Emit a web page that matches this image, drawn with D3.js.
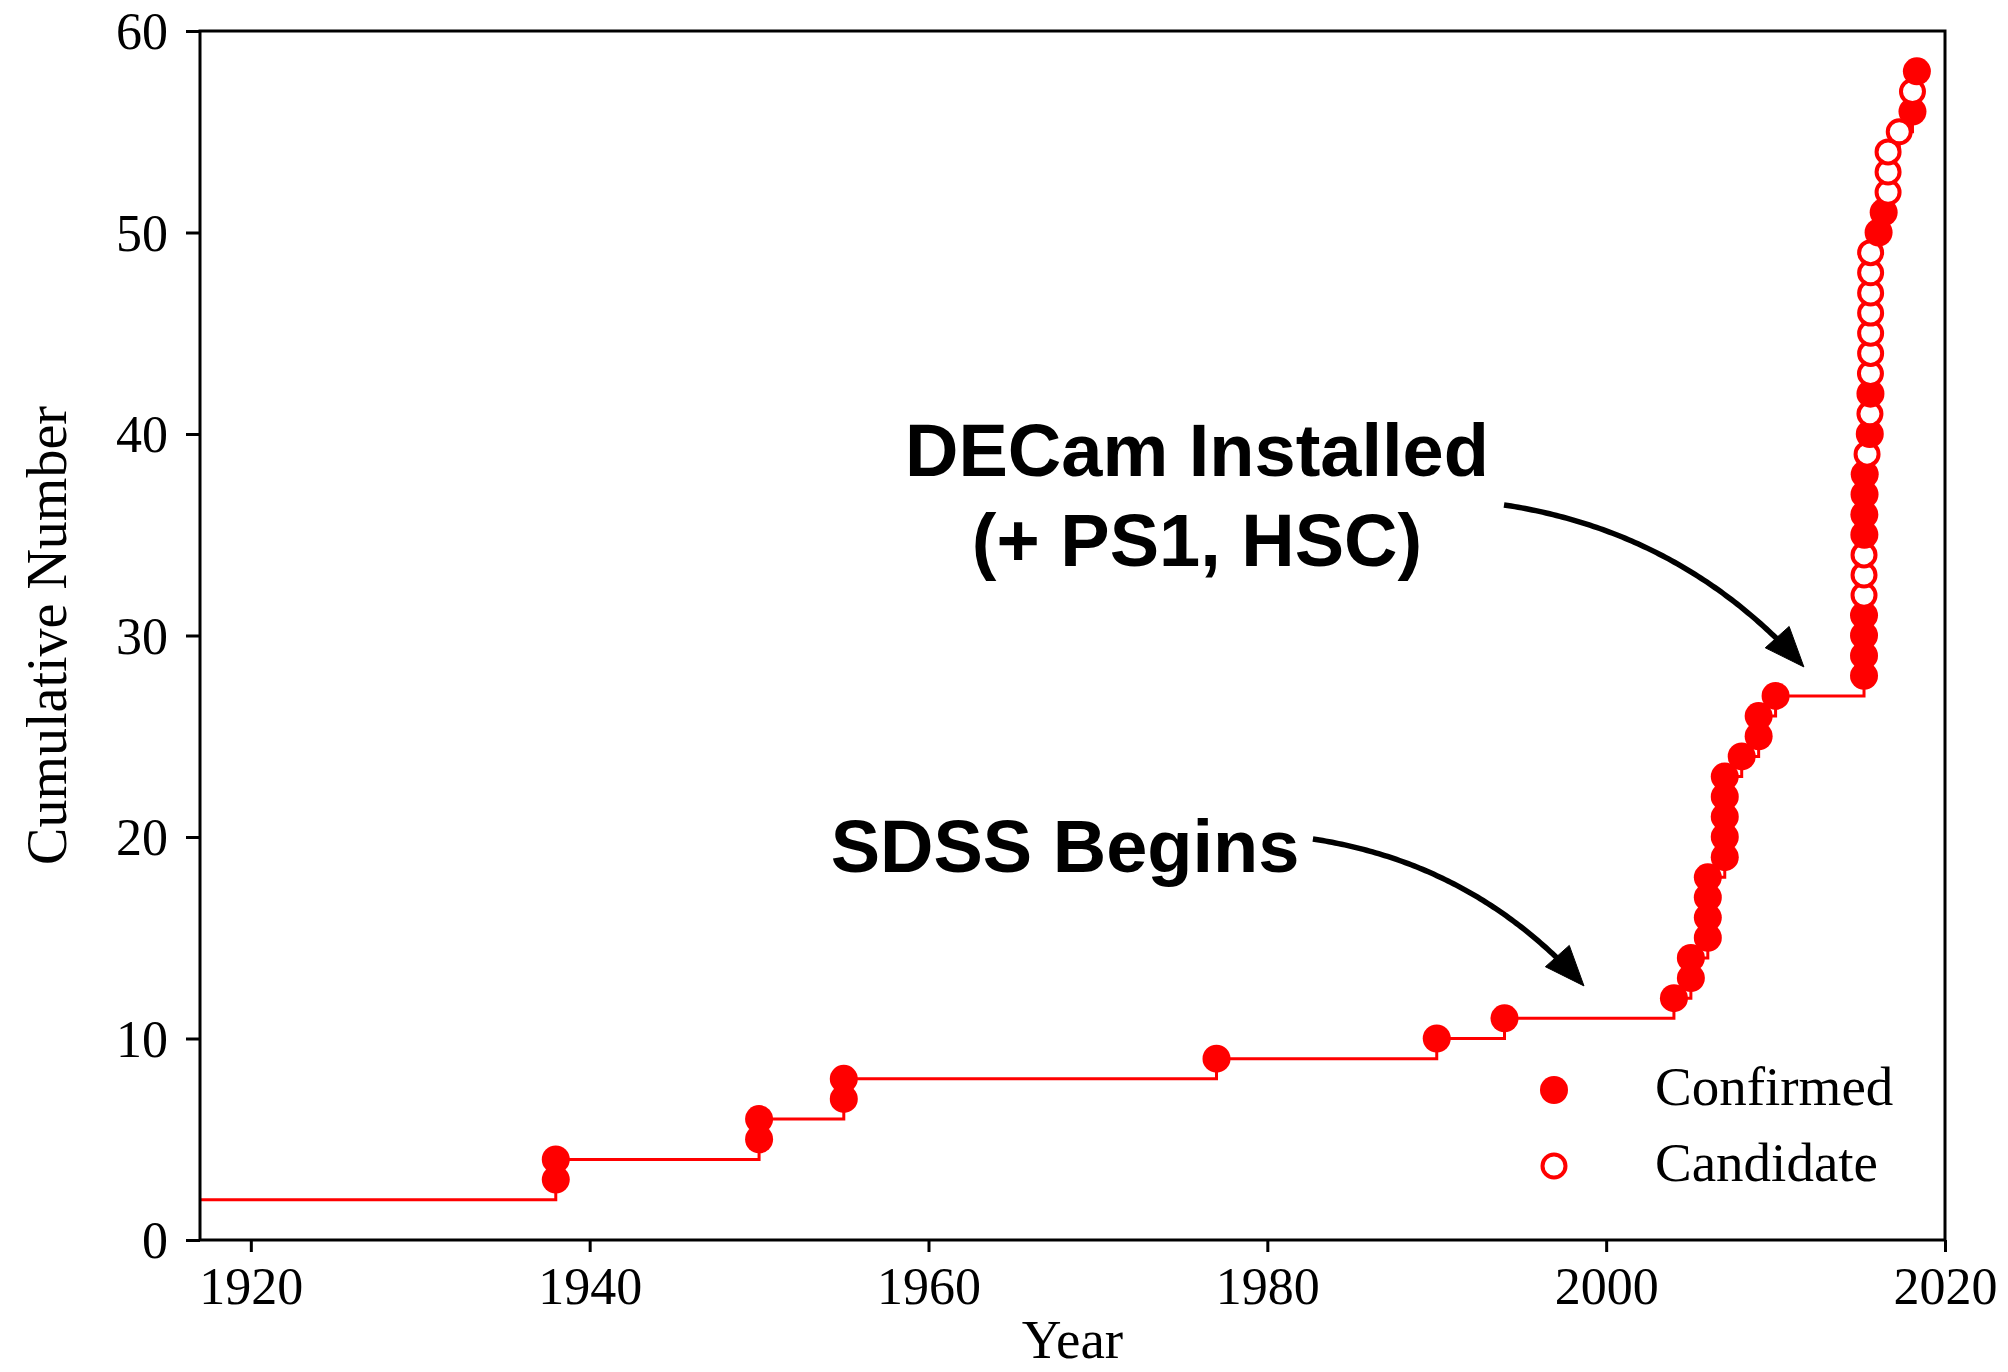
<!DOCTYPE html>
<html>
<head>
<meta charset="utf-8">
<script src="https://cdn.jsdelivr.net/npm/d3@7"></script>
<style>
  body { margin: 0; background: #fff; }
  svg { display: block; }
</style>
</head>
<body>
<script>
// Discovery epoch (decimal year) of each object, in order of discovery
const discoveryYears = [
  1938, 1938, 1950, 1950, 1955, 1955, 1977, 1990, 1994,
  2004, 2005, 2005, 2006, 2006, 2006, 2006,
  2007, 2007, 2007, 2007, 2007, 2008, 2009, 2009, 2010,
  2015.22, 2015.22, 2015.22, 2015.22, 2015.22, 2015.22, 2015.22,
  2015.24, 2015.24, 2015.25, 2015.26, 2015.40, 2015.56, 2015.57,
  2015.60, 2015.60, 2015.61, 2015.61, 2015.61, 2015.61, 2015.61, 2015.61,
  2016.08, 2016.38, 2016.64, 2016.64, 2016.64, 2017.30,
  2018.08, 2018.08, 2018.34
];
// Running total after each discovery
const cumulativeCounts = [
  3, 4, 5, 6, 7, 8, 9, 10, 11,
  12, 13, 14, 15, 16, 17, 18,
  19, 20, 21, 22, 23, 24, 25, 26, 27,
  28, 29, 30, 31, 32, 33, 34,
  35, 36, 37, 38, 39, 40, 41,
  42, 43, 44, 45, 46, 47, 48, 49,
  50, 51, 52, 53, 54, 55,
  56, 57, 58
];
// Status of each object
const statuses = [
  "Confirmed", "Confirmed", "Confirmed", "Confirmed", "Confirmed", "Confirmed", "Confirmed", "Confirmed", "Confirmed",
  "Confirmed", "Confirmed", "Confirmed", "Confirmed", "Confirmed", "Confirmed", "Confirmed",
  "Confirmed", "Confirmed", "Confirmed", "Confirmed", "Confirmed", "Confirmed", "Confirmed", "Confirmed", "Confirmed",
  "Confirmed", "Confirmed", "Confirmed", "Confirmed", "Candidate", "Candidate", "Candidate",
  "Confirmed", "Confirmed", "Confirmed", "Confirmed", "Candidate", "Confirmed", "Candidate",
  "Confirmed", "Candidate", "Candidate", "Candidate", "Candidate", "Candidate", "Candidate", "Candidate",
  "Confirmed", "Confirmed", "Candidate", "Candidate", "Candidate", "Candidate",
  "Confirmed", "Candidate", "Confirmed"
];
// Objects already known before the start of the time axis
const countBeforeAxis = 2;

const xDomain = [1917, 2020];
const yDomain = [0, 60];
const xTickValues = [1920, 1940, 1960, 1980, 2000, 2020];
const yTickValues = [0, 10, 20, 30, 40, 50, 60];
const legendLabels = ["Confirmed", "Candidate"];

// Annotations: text anchor (line 1 baseline) and arrow start/end in data units
const annotations = [
  { lines: ["DECam Installed", "(+ PS1, HSC)"], x: 1975.85, y: 37.92,
    from: [1993.97, 36.48], to: [2011.67, 28.44] },
  { lines: ["SDSS Begins"], x: 1968.06, y: 18.26,
    from: [1982.69, 19.90], to: [1998.69, 12.61] }
];

// ---- layout ----
const W = 2008, H = 1372;
const plot = { left: 200, right: 1945, top: 31, bottom: 1240 };
const RED = "#ff0000";
const serif = "'Liberation Serif', 'Times New Roman', serif";
const sans = "'Liberation Sans', Arial, Helvetica, sans-serif";

const svg = d3.select("body").append("svg")
  .attr("width", W).attr("height", H)
  .attr("viewBox", `0 0 ${W} ${H}`);
svg.append("rect").attr("width", W).attr("height", H).attr("fill", "#fff");

const x = d3.scaleLinear().domain(xDomain).range([plot.left, plot.right]);
const y = d3.scaleLinear().domain(yDomain).range([plot.bottom, plot.top]);

const points = discoveryYears.map((yr, i) => ({
  year: yr, count: cumulativeCounts[i], status: statuses[i]
}));

// ---- cumulative step line ----
const stepData = [{ year: xDomain[0], count: countBeforeAxis }].concat(points);
svg.append("path")
  .datum(stepData)
  .attr("fill", "none")
  .attr("stroke", RED)
  .attr("stroke-width", 3)
  .attr("d", d3.line().x(d => x(d.year)).y(d => y(d.count)).curve(d3.curveStepAfter));

// ---- markers, drawn in discovery order ----
const markerG = svg.append("g");
function drawMarker(sel, status) {
  if (status === "Confirmed") {
    sel.attr("r", 14).attr("fill", RED).attr("stroke", "none");
  } else {
    sel.attr("r", 11.5).attr("fill", "#fff").attr("stroke", RED).attr("stroke-width", 4);
  }
}
points.forEach(p => {
  drawMarker(markerG.append("circle").attr("cx", x(p.year)).attr("cy", y(p.count)), p.status);
});

// ---- axes ----
const xAxis = d3.axisBottom(x).tickValues(xTickValues).tickSize(12).tickPadding(18)
  .tickFormat(d3.format("d"));
const yAxis = d3.axisLeft(y).tickValues(yTickValues).tickSize(14).tickPadding(16)
  .tickFormat(d3.format("d"));

const gx = svg.append("g").attr("transform", `translate(0,${plot.bottom})`).call(xAxis);
const gy = svg.append("g").attr("transform", `translate(${plot.left},0)`).call(yAxis);
[gx, gy].forEach(g => {
  g.select(".domain").remove();
  g.selectAll(".tick line").attr("stroke", "#000").attr("stroke-width", 3);
  g.selectAll(".tick text").attr("fill", "#000")
    .style("font-family", serif).style("font-size", "52px");
});
gx.selectAll(".tick text").attr("dy", null).attr("y", 64);
gy.selectAll(".tick text").attr("dy", "0.34em").attr("x", -32);

// frame
svg.append("rect")
  .attr("x", plot.left).attr("y", plot.top)
  .attr("width", plot.right - plot.left).attr("height", plot.bottom - plot.top)
  .attr("fill", "none").attr("stroke", "#000").attr("stroke-width", 3);

// axis titles
svg.append("text")
  .attr("x", (plot.left + plot.right) / 2).attr("y", 1358)
  .attr("text-anchor", "middle")
  .style("font-family", serif).style("font-size", "55px")
  .text("Year");
svg.append("text")
  .attr("transform", `translate(66,${(plot.top + plot.bottom) / 2}) rotate(-90)`)
  .attr("text-anchor", "middle")
  .style("font-family", serif).style("font-size", "56px")
  .text("Cumulative Number");

// ---- legend ----
const legend = svg.append("g");
legendLabels.forEach((lab, i) => {
  const cy = 1090 + i * 76;
  drawMarker(legend.append("circle").attr("cx", 1554).attr("cy", cy), lab);
  legend.append("text")
    .attr("x", 1655).attr("y", cy + 15)
    .style("font-family", serif).style("font-size", "55px")
    .text(lab);
});

// ---- annotations with curved arrows ----
function curvedArrow(g, s, e, bend) {
  const dx = e[0] - s[0], dy = e[1] - s[1];
  const c = [(s[0] + e[0]) / 2 + bend * dy, (s[1] + e[1]) / 2 - bend * dx];
  const bez = t => [
    (1 - t) * (1 - t) * s[0] + 2 * t * (1 - t) * c[0] + t * t * e[0],
    (1 - t) * (1 - t) * s[1] + 2 * t * (1 - t) * c[1] + t * t * e[1]
  ];
  const headLen = 40, headHalf = 16;
  const shaft = [];
  for (let t = 0; t <= 1.0001; t += 0.01) {
    const p = bez(t);
    if (Math.hypot(e[0] - p[0], e[1] - p[1]) < headLen * 0.7) break;
    shaft.push(p);
  }
  g.append("path")
    .attr("d", d3.line()(shaft))
    .attr("fill", "none").attr("stroke", "#000").attr("stroke-width", 5.5);
  const tx = e[0] - c[0], ty = e[1] - c[1], tl = Math.hypot(tx, ty);
  const ux = tx / tl, uy = ty / tl;
  const bx = e[0] - ux * headLen, by = e[1] - uy * headLen;
  g.append("path")
    .attr("d", d3.line()([
      e,
      [bx - uy * headHalf, by + ux * headHalf],
      [bx + uy * headHalf, by - ux * headHalf]
    ]) + "Z")
    .attr("fill", "#000").attr("stroke", "#000").attr("stroke-width", 1);
}

const annG = svg.append("g");
annotations.forEach(a => {
  const t = annG.append("text")
    .attr("text-anchor", "middle")
    .style("font-family", sans).style("font-weight", "bold").style("font-size", "74px");
  a.lines.forEach((ln, i) => {
    t.append("tspan").attr("x", x(a.x)).attr("y", y(a.y) + i * 90).text(ln);
  });
  curvedArrow(annG, [x(a.from[0]), y(a.from[1])], [x(a.to[0]), y(a.to[1])], 0.18);
});
</script>
</body>
</html>
